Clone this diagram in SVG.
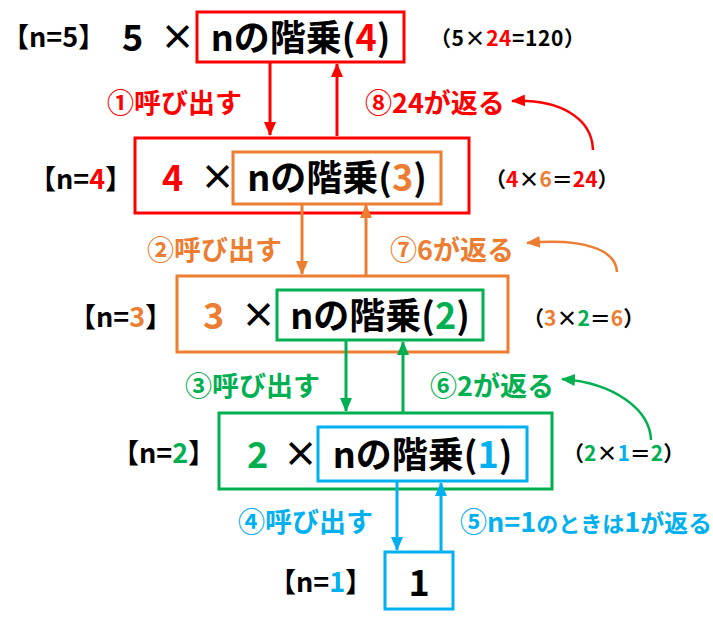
<svg xmlns="http://www.w3.org/2000/svg" width="713" height="624" viewBox="0 0 713 624">
<defs>
<style>
text{font-family:"Noto Sans CJK JP","Noto Sans",sans-serif;font-weight:bold;fill:#000}
.big{font-size:36px}
.x{font-size:35px}
.lab{font-size:27px}
.side{font-size:27px}
.res{font-size:21px}
.r{fill:#FF0000}.o{fill:#ED7D31}.g{fill:#00B050}.b{fill:#00B0F0}
.box{fill:#fff;stroke-width:3}
.ln{fill:none;stroke-width:3}
.cv{fill:none;stroke-width:2.5}
</style>
<marker id="mr" markerUnits="userSpaceOnUse" markerWidth="16" markerHeight="16" refX="13" refY="8" orient="auto"><path d="M0,2 L14,8 L0,14 Z" fill="#FF0000"/></marker>
<marker id="mo" markerUnits="userSpaceOnUse" markerWidth="16" markerHeight="16" refX="13" refY="8" orient="auto"><path d="M0,2 L14,8 L0,14 Z" fill="#ED7D31"/></marker>
<marker id="mg" markerUnits="userSpaceOnUse" markerWidth="16" markerHeight="16" refX="13" refY="8" orient="auto"><path d="M0,2 L14,8 L0,14 Z" fill="#00B050"/></marker>
<marker id="mb" markerUnits="userSpaceOnUse" markerWidth="16" markerHeight="16" refX="13" refY="8" orient="auto"><path d="M0,2 L14,8 L0,14 Z" fill="#00B0F0"/></marker>
</defs>
<rect width="713" height="624" fill="#fff"/>

<g id="n5">
<text class="side" x="2" y="47">【n=5】</text>
<text class="big" x="122" y="51">5</text>
<text class="x" x="160" y="50">×</text>
<rect class="box" x="197" y="12" width="207" height="50" stroke="#FF0000"/>
<text class="big" x="300.5" y="51" text-anchor="middle">nの階乗(<tspan class="r">4</tspan>)</text>
<text class="res" x="430" y="46" textLength="155">（5×<tspan class="r">24</tspan>=120）</text>
</g>

<g id="n4">
<text class="side" x="29" y="189">【n=<tspan class="r">4</tspan>】</text>
<rect class="box" x="135" y="138" width="334" height="75" stroke="#FF0000"/>
<text class="big r" x="162" y="191">4</text>
<text class="x" x="200" y="190">×</text>
<rect class="box" x="233" y="152" width="208" height="52" stroke="#ED7D31" stroke-width="2.5"/>
<text class="big" x="337" y="191" text-anchor="middle">nの階乗(<tspan class="o">3</tspan>)</text>
<text class="res" x="485" y="187">（<tspan class="r">4</tspan>×<tspan class="o">6</tspan>＝<tspan class="r">24</tspan>）</text>
</g>

<g id="n3">
<text class="side" x="69" y="327">【n=<tspan class="o">3</tspan>】</text>
<rect class="box" x="177" y="276" width="331" height="76" stroke="#ED7D31"/>
<text class="big o" x="203" y="329">3</text>
<text class="x" x="241" y="328">×</text>
<rect class="box" x="277" y="290" width="206" height="50" stroke="#00B050"/>
<text class="big" x="380" y="329" text-anchor="middle">nの階乗(<tspan class="g">2</tspan>)</text>
<text class="res" x="523" y="326">（<tspan class="o">3</tspan>×<tspan class="g">2</tspan>＝<tspan class="o">6</tspan>）</text>
</g>

<g id="n2">
<text class="side" x="112" y="463">【n=<tspan class="g">2</tspan>】</text>
<rect class="box" x="219" y="413" width="333" height="76" stroke="#00B050"/>
<text class="big g" x="247" y="468">2</text>
<text class="x" x="283" y="467">×</text>
<rect class="box" x="318" y="427" width="209" height="54" stroke="#00B0F0"/>
<text class="big" x="422.5" y="468" text-anchor="middle">nの階乗(<tspan class="b">1</tspan>)</text>
<text class="res" x="563" y="461">（<tspan class="g">2</tspan>×<tspan class="b">1</tspan>＝<tspan class="g">2</tspan>）</text>
</g>

<g id="n1">
<text class="side" x="269" y="592">【n=<tspan class="b">1</tspan>】</text>
<rect class="box" x="385" y="552" width="68" height="57" stroke="#00B0F0"/>
<text class="big" x="419" y="596" text-anchor="middle">1</text>
</g>

<g id="connectors">
<line class="ln" x1="270" y1="62" x2="270" y2="135" stroke="#FF0000" marker-end="url(#mr)"/>
<line class="ln" x1="337" y1="136" x2="337" y2="64" stroke="#FF0000" marker-end="url(#mr)"/>
<path class="cv" d="M593,150 C592,118 560,99 512,101" stroke="#FF0000" marker-end="url(#mr)"/>

<line class="ln" x1="302" y1="204" x2="302" y2="274" stroke="#ED7D31" marker-end="url(#mo)"/>
<line class="ln" x1="366" y1="276" x2="366" y2="205" stroke="#ED7D31" marker-end="url(#mo)"/>
<path class="cv" d="M617,272 C616,250 585,238 527,243" stroke="#ED7D31" marker-end="url(#mo)"/>

<line class="ln" x1="346" y1="340" x2="346" y2="411" stroke="#00B050" marker-end="url(#mg)"/>
<line class="ln" x1="403" y1="413" x2="403" y2="342" stroke="#00B050" marker-end="url(#mg)"/>
<path class="cv" d="M651,440 C650,410 615,383 562,379" stroke="#00B050" marker-end="url(#mg)"/>

<line class="ln" x1="397" y1="481" x2="397" y2="550" stroke="#00B0F0" marker-end="url(#mb)"/>
<line class="ln" x1="441" y1="552" x2="441" y2="483" stroke="#00B0F0" marker-end="url(#mb)"/>
</g>

<g id="labels">
<text class="lab r" x="107" y="113">①呼び出す</text>
<text class="lab r" x="365" y="113">⑧24が返る</text>
<text class="lab o" x="147" y="260">②呼び出す</text>
<text class="lab o" x="390" y="260">⑦6が返る</text>
<text class="lab g" x="185" y="396">③呼び出す</text>
<text class="lab g" x="430" y="396">⑥2が返る</text>
<text class="lab b" x="238" y="532">④呼び出す</text>
<text class="lab b" x="460" y="532">⑤n=1<tspan font-size="22">のときは</tspan>1<tspan font-size="24">が返る</tspan></text>
</g>
</svg>
